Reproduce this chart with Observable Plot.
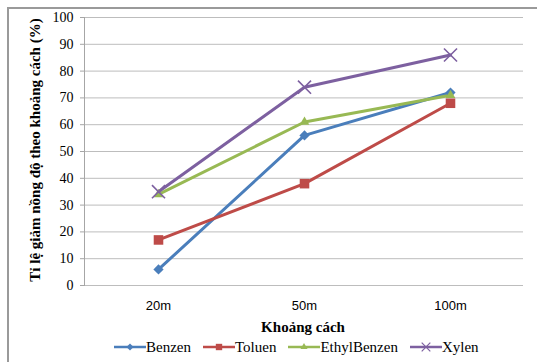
<!DOCTYPE html>
<html><head><meta charset="utf-8">
<script src="https://cdn.jsdelivr.net/npm/d3@7"></script>
<script src="https://cdn.jsdelivr.net/npm/@observablehq/plot@0.6"></script>
<style>
body{margin:0;background:#fff;}
#wrap{position:relative;width:537px;height:362px;overflow:hidden;background:#fff;font-family:"Liberation Serif","Times New Roman",serif;}
#frameL{position:absolute;left:7px;top:8px;width:2px;height:360px;background:#9a9a9a;}
#frameT{position:absolute;left:7px;top:7px;width:535px;height:2px;background:#9a9a9a;}
#chart{position:absolute;left:0;top:0;}
#ytitle{position:absolute;left:35px;top:150px;transform:translate(-50%,-50%) rotate(-90deg);white-space:nowrap;font-weight:bold;font-size:15px;color:#000;}
#xtitle{position:absolute;left:303px;top:327px;transform:translate(-50%,-50%);white-space:nowrap;font-weight:bold;font-size:15px;color:#000;}
#legend{position:absolute;left:114px;top:338px;height:18px;display:flex;align-items:center;gap:12px;font-family:"Liberation Serif","Times New Roman",serif;font-size:15px;color:#000;}
#legend span.item{display:flex;align-items:center;white-space:nowrap;}
#legend svg{margin-right:0;}
</style></head>
<body>
<div id="wrap">
  <div id="chart"></div>
  <div id="frameL"></div><div id="frameT"></div>
  <div id="ytitle">Tỉ lệ giảm nồng độ theo khoảng cách (%)</div>
  <div id="xtitle">Khoảng cách</div>
  <div id="legend"></div>
</div>
<script>
const categories = ["20m", "50m", "100m"];
const series = ["Benzen", "Toluen", "EthylBenzen", "Xylen"];
const benzen = [6, 56, 72];
const toluen = [17, 38, 68];
const ethylBenzen = [34, 61, 71];
const xylen = [35, 74, 86];
const yTicks = [0, 10, 20, 30, 40, 50, 60, 70, 80, 90, 100];
const colors = ["#4A7EBB", "#BE4B48", "#98B954", "#7D60A0"];
const symbols = ["diamond2", "square", "triangle2", "times"];
const d3symbols = [d3.symbolDiamond2, d3.symbolSquare, d3.symbolTriangle2, d3.symbolTimes];
const radii = [4.6, 5.4, 4.6, 6];
const legendRadii = [3.2, 3.6, 3.4, 4];

const values = [benzen, toluen, ethylBenzen, xylen];
const data = [];
series.forEach((s, i) => categories.forEach((c, j) => data.push({series: s, cat: c, value: values[i][j]})));

const dots = series.map((s, i) => Plot.dot(data.filter(d => d.series === s), {
  x: "cat", y: "value", symbol: symbols[i], r: radii[i],
  fill: i === 3 ? "none" : colors[i],
  stroke: i === 3 ? colors[i] : "none",
  strokeWidth: i === 3 ? 1.6 : 0
}));

const chart = Plot.plot({
  width: 537, height: 335,
  marginTop: 17, marginBottom: 50, marginLeft: 84, marginRight: 14,
  style: {background: "transparent", color: "#000", fontFamily: "Liberation Serif, Times New Roman, serif"},
  x: {type: "point", domain: categories, padding: 0.5},
  y: {domain: [0, 100]},
  color: {domain: series, range: colors},
  marks: [
    Plot.gridY(yTicks, {stroke: "#bdbdbd", strokeOpacity: 1, strokeWidth: 1}),
    Plot.frame({anchor: "left", stroke: "#a6a6a6"}),
    Plot.axisY(yTicks, {tickSize: 4, tickPadding: 7, stroke: "#a6a6a6", fill: "#000", fontSize: 14, fontFamily: "Liberation Serif", label: null}),
    Plot.axisX({tickSize: 0, tickPadding: 15, fill: "#000", fontSize: 13, fontFamily: "Liberation Sans", label: null}),
    Plot.line(data, {x: "cat", y: "value", z: "series", stroke: "series", strokeWidth: 3}),
    ...dots
  ]
});
document.getElementById("chart").appendChild(chart);

const legend = d3.select("#legend");
series.forEach((s, i) => {
  const item = legend.append("span").attr("class", "item");
  const svg = item.append("svg").attr("width", 32).attr("height", 14);
  svg.append("line").attr("x1", 0).attr("x2", 32).attr("y1", 7).attr("y2", 7)
    .attr("stroke", colors[i]).attr("stroke-width", 2.5);
  const size = Math.PI * legendRadii[i] * legendRadii[i];
  svg.append("path").attr("transform", "translate(16,7)")
    .attr("d", d3.symbol(d3symbols[i], size)())
    .attr("fill", i === 3 ? "none" : colors[i])
    .attr("stroke", i === 3 ? colors[i] : "none")
    .attr("stroke-width", 1.2);
  item.append("span").text(s);
});
</script>
</body></html>
